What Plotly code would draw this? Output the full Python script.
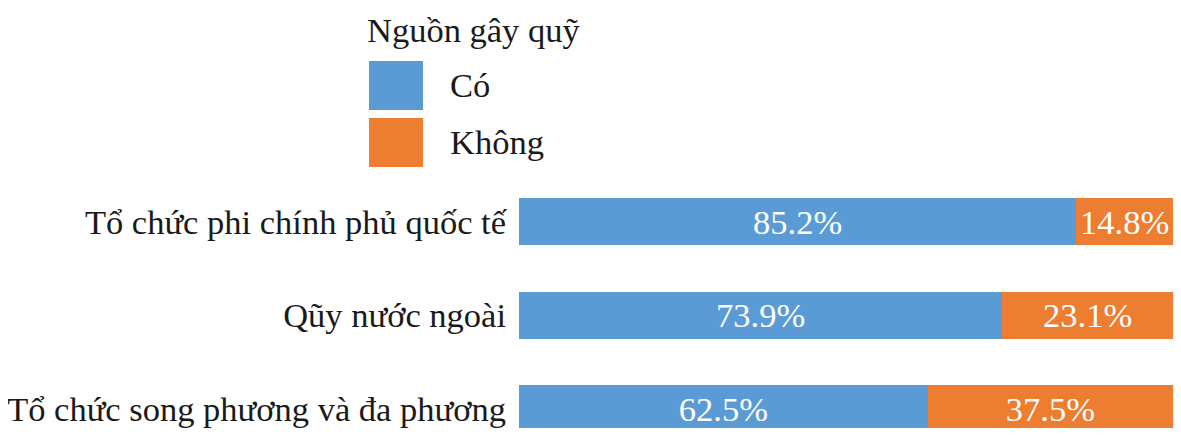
import plotly.graph_objects as go

# ---- data ----
categories = ["Tổ chức phi chính phủ quốc tế", "Qũy nước ngoài", "Tổ chức song phương và đa phương"]
series_names = ["Có", "Không"]
co_values = [85.2, 73.9, 62.5]
khong_values = [14.8, 26.1, 37.5]
co_labels = ["85.2%", "73.9%", "62.5%"]
khong_labels = ["14.8%", "23.1%", "37.5%"]
legend_title = "Nguồn gây quỹ"

colors = ["#5B9BD5", "#ED7D31"]
FONT = "Liberation Serif, Times New Roman, serif"
FS = 34.5
OFF = 8  # default page body margin
PAGE_W, PAGE_H = 1181, 436
W, H = PAGE_W - 2 * OFF, PAGE_H - 2 * OFF
# plot area in page pixels
PL, PR, PT, PB = 519, PAGE_W - OFF, 175, PAGE_H - OFF
ML, MR, MT, MB = PL - OFF, 0, PT - OFF, 0
# category pitch in reference ~93.5px -> y range bottom
Y_BOTTOM = -0.5 + (PB - PT) / 93.5

def px_x(x):
    return (x - PL) / (PR - PL)

def px_y(y):
    return (PB - y) / (PB - PT)

fig = go.Figure()
for name, vals, labs, col in [
    (series_names[0], co_values, co_labels, colors[0]),
    (series_names[1], khong_values, khong_labels, colors[1]),
]:
    fig.add_trace(go.Bar(
        y=categories, x=vals, orientation="h", name=name,
        marker=dict(color=col, line=dict(width=0)),
        text=labs, texttemplate="%{text}", textposition="inside",
        insidetextanchor="middle", constraintext="none",
        textfont=dict(family=FONT, size=FS, color="white"),
        hoverinfo="skip", showlegend=False,
    ))

shapes = []
annotations = [dict(
    text=legend_title, xref="paper", yref="paper", x=px_x(365), y=px_y(30),
    xanchor="left", yanchor="middle", showarrow=False,
    font=dict(family=FONT, size=FS, color="#1a1a1a"),
)]
sw_tops = [61, 118]
for i, name in enumerate(series_names):
    t = sw_tops[i]
    shapes.append(dict(type="rect", xref="paper", yref="paper",
                       x0=px_x(369), x1=px_x(423), y0=px_y(t + 49), y1=px_y(t),
                       fillcolor=colors[i], line=dict(width=0)))
    annotations.append(dict(
        text=name, xref="paper", yref="paper", x=px_x(448), y=px_y(t + 24),
        xanchor="left", yanchor="middle", showarrow=False,
        font=dict(family=FONT, size=FS, color="#1a1a1a"),
    ))

fig.update_layout(
    width=W, height=H, barmode="stack", bargap=0.5,
    margin=dict(l=ML, r=MR, t=MT, b=MB, pad=0),
    paper_bgcolor="white", plot_bgcolor="white",
    shapes=shapes, annotations=annotations,
    xaxis=dict(range=[0, 100], visible=False, showgrid=False, zeroline=False),
    yaxis=dict(type="category", categoryarray=categories, categoryorder="array",
               range=[Y_BOTTOM, -0.5], showgrid=False, zeroline=False,
               showline=False, ticks="", ticklabelstandoff=12,
               tickfont=dict(family=FONT, size=FS, color="#1a1a1a")),
)

fig.write_html("out.html")
